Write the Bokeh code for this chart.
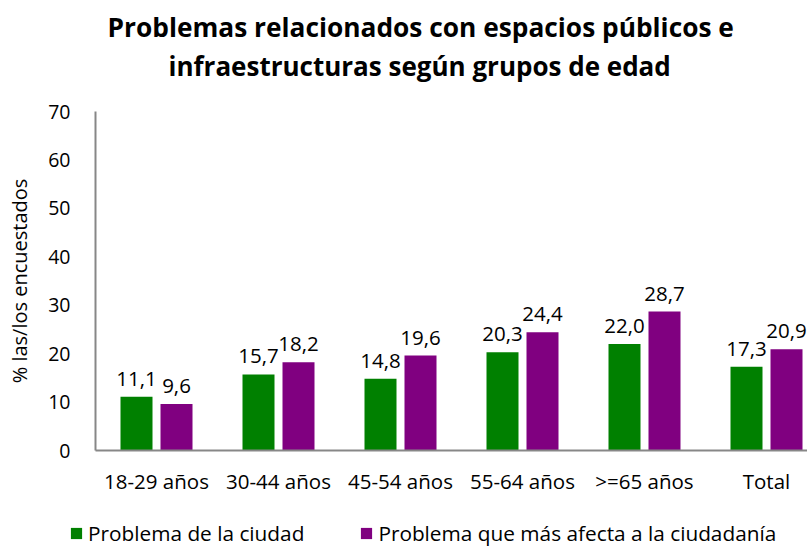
from bokeh.plotting import figure
from bokeh.models import Title, Legend, LegendItem, FixedTicker, ColumnDataSource
from bokeh.core.properties import value
from bokeh.embed import file_html
from bokeh.resources import INLINE

categories = ["18-29 años", "30-44 años", "45-54 años", "55-64 años", ">=65 años", "Total"]
ciudad = [11.1, 15.7, 14.8, 20.3, 22.0, 17.3]
ciudadania = [9.6, 18.2, 19.6, 24.4, 28.7, 20.9]
y_ticks = [0, 10, 20, 30, 40, 50, 60, 70]
series_names = ["Problema de la ciudad", "Problema que más afecta a la ciudadanía"]
colors = ["#008000", "#800080"]
title_lines = ["Problemas relacionados con espacios públicos e",
               "infraestructuras según grupos de edad"]
y_label = "% las/los encuestados"

FONT = "Open Sans"
AXIS_GREY = "#878787"
W, H = 807, 547
FRAME_TOP = 96            # frame top row
Y70 = 111                 # pixel row of value 70
ZERO_Y = 450              # pixel row of value 0
ORIGIN_X = 95             # pixel column of the first category's left edge
CAT_PX = 122.0
FRAME_H = H - FRAME_TOP
PX_PER_UNIT = (ZERO_Y - Y70) / 70.0
y_start = -(H - ZERO_Y) / PX_PER_UNIT
y_end = 70 + (Y70 - FRAME_TOP) / PX_PER_UNIT
x_start = -ORIGIN_X / CAT_PX
x_end = x_start + W / CAT_PX

p = figure(frame_width=W, frame_height=FRAME_H, output_backend="svg",
           toolbar_location=None,
           x_range=(x_start, x_end), y_range=(y_start, y_end),
           min_border_left=0, min_border_right=0, min_border_top=FRAME_TOP,
           min_border_bottom=0)
p.outline_line_color = None
p.background_fill_color = "white"
p.border_fill_color = "white"
p.xgrid.visible = False
p.ygrid.visible = False

centers = [i + 0.5 for i in range(len(categories))]
off = 20.0 / CAT_PX
bw = 32.0 / CAT_PX
fmt = lambda v: f"{v:.1f}".replace(".", ",")

renderers = []
for vals, col, sign in [(ciudad, colors[0], -1), (ciudadania, colors[1], 1)]:
    xs = [c + sign * off for c in centers]
    src = ColumnDataSource(dict(x=xs, top=vals, lab=[fmt(v) for v in vals]))
    r = p.vbar(x="x", top="top", width=bw, bottom=0, source=src,
               fill_color=col, line_color=None)
    renderers.append(r)
    p.text(x="x", y="top", text="lab", source=src, text_align="center",
           text_baseline="alphabetic", y_offset=-18, text_font=value(FONT),
           text_font_size="20.5px", text_color="#000000")

# axes, pinned inside the frame
p.xaxis.fixed_location = 0
p.xaxis.bounds = (0, x_end)
p.xaxis.ticker = FixedTicker(ticks=centers)
p.xaxis.major_label_overrides = {c: cat for c, cat in zip(centers, categories)}
p.xaxis.major_tick_line_color = None
p.xaxis.minor_tick_line_color = None
p.xaxis.axis_line_color = AXIS_GREY
p.xaxis.axis_line_width = 2
p.xaxis.major_label_text_font = FONT
p.xaxis.major_label_text_font_size = "20.5px"
p.xaxis.major_label_text_color = "#000000"
p.xaxis.major_label_standoff = 10

p.yaxis.fixed_location = 0
p.yaxis.bounds = (0, 70)
p.yaxis.ticker = FixedTicker(ticks=y_ticks)
p.yaxis.major_tick_line_color = None
p.yaxis.minor_tick_line_color = None
p.yaxis.axis_line_color = AXIS_GREY
p.yaxis.axis_line_width = 2
p.yaxis.major_label_text_font = FONT
p.yaxis.major_label_text_font_size = "19.5px"
p.yaxis.major_label_text_color = "#000000"
p.yaxis.major_label_standoff = 19
p.yaxis.axis_label = y_label
p.yaxis.axis_label_text_font = FONT
p.yaxis.axis_label_text_font_size = "20px"
p.yaxis.axis_label_text_font_style = "normal"
p.yaxis.axis_label_text_color = "#000000"
p.yaxis.axis_label_standoff = 12

# titles (first added is nearest the plot)
p.add_layout(Title(text=" ", text_font_size="2px", standoff=9), "above")
p.add_layout(Title(text=title_lines[1], align="left", offset=168, text_font=FONT,
                   text_font_size="26px", text_font_style="bold",
                   text_color="#000000", standoff=0), "above")
p.add_layout(Title(text=title_lines[0], align="left", offset=107, text_font=FONT,
                   text_font_size="26.3px", text_font_style="bold",
                   text_color="#000000", standoff=2), "above")

legend = Legend(items=[LegendItem(label=series_names[i], renderers=[renderers[i]])
                       for i in range(2)],
                orientation="horizontal", location=(69, 0),
                glyph_width=14, glyph_height=14, label_standoff=5, spacing=55,
                padding=0, margin=0, border_line_color=None,
                background_fill_alpha=0,
                label_text_font=FONT, label_text_font_size="20.8px",
                label_text_color="#000000")
p.add_layout(legend, "center")

open("out.html", "w").write(file_html(p, INLINE))
